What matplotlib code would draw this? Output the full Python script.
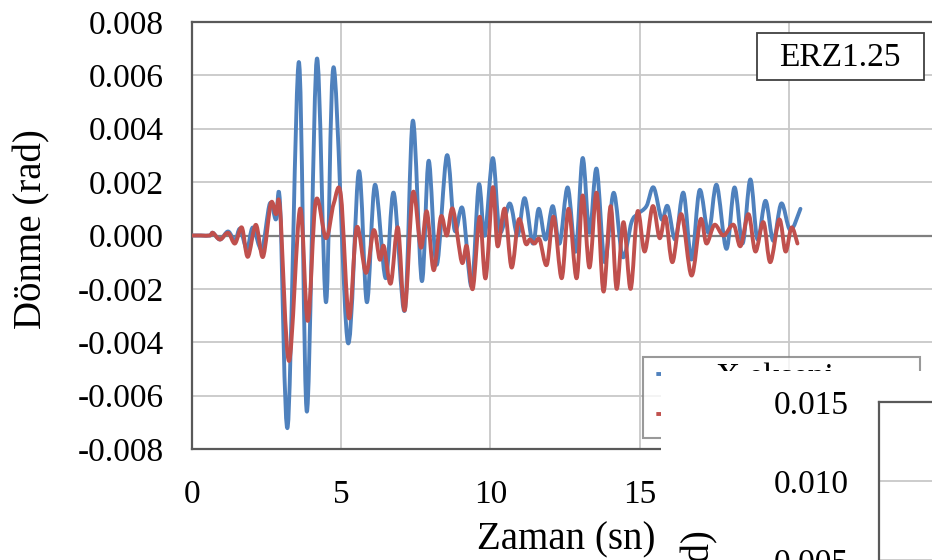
import numpy as np
import matplotlib
matplotlib.use("Agg")
import matplotlib.pyplot as plt
from matplotlib.path import Path
from matplotlib.patches import PathPatch, Rectangle
from matplotlib.lines import Line2D
from matplotlib.ticker import FixedLocator, FuncFormatter

plt.rcParams['font.family'] = ['Liberation Serif', 'DejaVu Serif']
plt.rcParams['axes.unicode_minus'] = False
plt.rcParams['lines.scale_dashes'] = False

# ---------------- data ----------------
series_names = ["X ekseni", "Y ekseni"]
title_text = "ERZ1.25"
x_label = "Zaman (sn)"
y_label = "Dönme (rad)"

t_x = [0, 0.30, 0.60, 0.70, 0.94, 1.21, 1.44, 1.61, 1.84, 2.04, 2.34, 2.61, 2.81, 2.95,
       3.21, 3.58, 3.85, 4.18, 4.49, 4.75, 5.22, 5.59, 5.86, 6.13, 6.49, 6.76, 7.13,
       7.40, 7.70, 7.93, 8.20, 8.54, 8.80, 9.07, 9.37, 9.61, 9.81, 10.08, 10.31, 10.65,
       10.91, 11.15, 11.42, 11.62, 11.85, 12.09, 12.32, 12.59, 12.86, 13.09, 13.32,
       13.56, 13.83, 14.13, 14.43, 14.73, 14.93, 15.23, 15.47, 15.74, 15.94, 16.20,
       16.47, 16.74, 17.01, 17.31, 17.58, 17.91, 18.18, 18.45, 18.71, 18.95, 19.22,
       19.48, 19.75, 20.05, 20.39]
v_x = [0, 0, 0, 0.0001, -0.00015, 0.00015, -0.0002, 0.00025, -0.0005, 0.0003, -0.0005,
       0.0012, 0.0006, 0.0012, -0.00715, 0.0065, -0.0066, 0.0066, -0.0025, 0.0063,
       -0.0040, 0.0024, -0.0025, 0.0019, -0.0016, 0.0016, -0.0028, 0.0043, -0.0017,
       0.0028, -0.0011, 0.0030, 0.0002, 0.0010, -0.0019, 0.0019, 0.0, 0.0029, 0.00015,
       0.0012, 0.0, 0.0014, -0.0003, 0.0010, -0.00015, 0.0011, -0.0003, 0.0018, -0.0006,
       0.0029, 0.0001, 0.0025, -0.0010, 0.0016, -0.0008, 0.0005, 0.0008, 0.0011, 0.0018,
       0.0006, 0.0011, -0.00015, 0.0016, -0.0009, 0.0017, 0.0001, 0.0019, -0.0005,
       0.0018, -0.0003, 0.0021, -0.00015, 0.0013, -0.0002, 0.0012, 0.0002, 0.0010]

t_y = [0, 0.30, 0.60, 0.70, 0.94, 1.21, 1.44, 1.67, 1.87, 2.14, 2.38, 2.64, 2.81, 2.95,
       3.25, 3.62, 3.88, 4.15, 4.49, 4.75, 4.99, 5.26, 5.52, 5.83, 6.09, 6.29, 6.43,
       6.66, 6.90, 7.13, 7.40, 7.67, 7.87, 8.10, 8.34, 8.54, 8.74, 9.04, 9.21, 9.41,
       9.64, 9.84, 10.08, 10.24, 10.48, 10.71, 10.95, 11.18, 11.32, 11.48, 11.65, 11.89,
       12.12, 12.39, 12.62, 12.89, 13.09, 13.32, 13.56, 13.79, 14.03, 14.23, 14.46,
       14.70, 14.93, 15.17, 15.44, 15.67, 15.87, 16.10, 16.40, 16.74, 17.04, 17.24,
       17.51, 17.81, 18.15, 18.38, 18.65, 18.88, 19.15, 19.38, 19.68, 19.89, 20.09, 20.29]
v_y = [0, 0, 0, 0.0001, -0.00015, 0.0001, -0.0003, 0.0003, -0.0008, 0.0004, -0.0008,
       0.0012, 0.0008, 0.0010, -0.0047, 0.0010, -0.0032, 0.0013, -0.0001, 0.0012, 0.0015,
       -0.0031, 0.0003, -0.0014, 0.0002, -0.0009, -0.0004, -0.0018, 0.0003, -0.0028,
       0.0016, -0.00045, 0.0009, -0.0013, 0.0007, 0.0, 0.0010, -0.0010, -0.0004, -0.0020,
       0.0007, -0.0016, 0.0018, -0.0004, 0.0010, -0.0012, 0.0006, -0.0003, -0.00015,
       -0.0003, -0.00015, -0.0011, 0.0007, -0.0016, 0.0010, -0.0016, 0.0015, -0.0012,
       0.0016, -0.0021, 0.0011, -0.0020, 0.0005, -0.0020, 0.0009, -0.0006, 0.0011,
       -0.0001, 0.0007, -0.0010, 0.0008, -0.0015, 0.0006, -0.0003, 0.0004, 0.0, 0.0004,
       -0.0004, 0.0008, -0.0006, 0.0005, -0.0010, 0.0006, -0.0006, 0.0003, -0.0003]

y_ticks = [-0.008, -0.006, -0.004, -0.002, 0.0, 0.002, 0.004, 0.006, 0.008]
x_ticks = [0, 5, 10, 15, 20, 25]
y2_ticks = [0.0, 0.005, 0.010, 0.015]

c_x = "#4F81BD"
c_y = "#C0504D"
W, H = 932, 560
LW = 2.8


def smooth_path(t, v):
    """Excel-like smoothed line (Catmull-Rom drawn as cubic Bezier segments)."""
    p = np.column_stack([t, v]).astype(float)
    n = len(p)
    verts = [p[0]]
    codes = [Path.MOVETO]
    for i in range(n - 1):
        p0 = p[i - 1] if i > 0 else p[i]
        p1, p2 = p[i], p[i + 1]
        p3 = p[i + 2] if i + 2 < n else p[i + 1]
        verts += [p1 + (p2 - p0) / 6.0, p2 - (p3 - p1) / 6.0, p2]
        codes += [Path.CURVE4] * 3
    return Path(verts, codes)


fig = plt.figure(figsize=(W / 100, H / 100), dpi=100)

# ---------------- main chart ----------------
ax = fig.add_axes([192 / W, 1 - 449 / H, (938 - 192) / W, (449 - 22) / H])
ax.set_xlim(0, 25)
ax.set_ylim(-0.008, 0.008)
ax.xaxis.set_major_locator(FixedLocator(x_ticks))
ax.yaxis.set_major_locator(FixedLocator(y_ticks))
ax.yaxis.set_major_formatter(FuncFormatter(lambda v, p: f"{v:.3f}".replace("-0.000", "0.000")))
ax.xaxis.set_major_formatter(FuncFormatter(lambda v, p: f"{v:g}"))
ax.tick_params(axis='both', length=0, labelsize=24, colors='black')
ax.tick_params(axis='y', pad=20)
ax.tick_params(axis='x', pad=22)
ax.grid(True, color='#c8c8c8', lw=1.3)
ax.set_axisbelow(True)
for s in ax.spines.values():
    s.set_color('#595959')
    s.set_linewidth(1.6)
ax.axhline(0, color='#7f7f7f', lw=1.6, zorder=1.5)

for t, v, c in [(t_x, v_x, c_x), (t_y, v_y, c_y)]:
    ax.add_patch(PathPatch(smooth_path(t, v), facecolor='none', edgecolor=c,
                           lw=LW, capstyle='round', joinstyle='round', zorder=3))

# legend keys start a little inside the frame (dash offset leaves a gap first)
key_style = (40, (40, 6))
handles = [Line2D([], [], color=c_x, lw=LW, linestyle=key_style, dash_capstyle='butt'),
           Line2D([], [], color=c_y, lw=LW, linestyle=key_style, dash_capstyle='butt')]
leg = ax.legend(handles, series_names, loc='upper left',
                bbox_to_anchor=(643 / W, 1 - 435 / H, (920 - 643) / W, (435 - 357) / H),
                bbox_transform=fig.transFigure, mode='expand', borderaxespad=0,
                fontsize=24, frameon=True, fancybox=False, borderpad=0.15,
                handlelength=1.5, handletextpad=0.55, labelspacing=0.3)
leg.get_frame().set_edgecolor('#808080')
leg.get_frame().set_linewidth(1.5)
leg.set_zorder(5)

fig.text(566 / W, 1 - 540 / H, x_label, ha='center', va='center', fontsize=28)
fig.text(32 / W, 1 - 229 / H, y_label, ha='center', va='center', fontsize=28, rotation=90)

fig.patches.append(Rectangle((757 / W, 1 - 80 / H), 167 / W, 47 / H, transform=fig.transFigure,
                             facecolor='white', edgecolor='#404040', lw=1.3, zorder=6))
fig.text(840 / W, 1 - 58 / H, title_text, ha='center', va='center', fontsize=24, zorder=7)

# ---------------- overlapping neighbour chart (cut off) ----------------
fig.patches.append(Rectangle((661 / W, 0), (W - 661) / W, (H - 371) / H,
                             transform=fig.transFigure, facecolor='white',
                             edgecolor='none', zorder=10))
ax2 = fig.add_axes([879 / W, 1 - 639 / H, 200 / W, (639 - 402) / H], zorder=11)
ax2.set_xlim(0, 25)
ax2.set_ylim(0, 0.015)
ax2.yaxis.set_major_locator(FixedLocator(y2_ticks))
ax2.yaxis.set_major_formatter(FuncFormatter(lambda v, p: f"{v:.3f}"))
ax2.set_xticks([])
ax2.tick_params(axis='y', length=0, labelsize=24, pad=22)
ax2.grid(True, axis='y', color='#c8c8c8', lw=1.3)
for s in ax2.spines.values():
    s.set_color('#595959')
    s.set_linewidth(1.6)
fig.text(700 / W, 1 - 530 / H, y_label, ha='center', va='top', fontsize=28, rotation=90,
         zorder=12)

fig.savefig("out.png", dpi=100)
